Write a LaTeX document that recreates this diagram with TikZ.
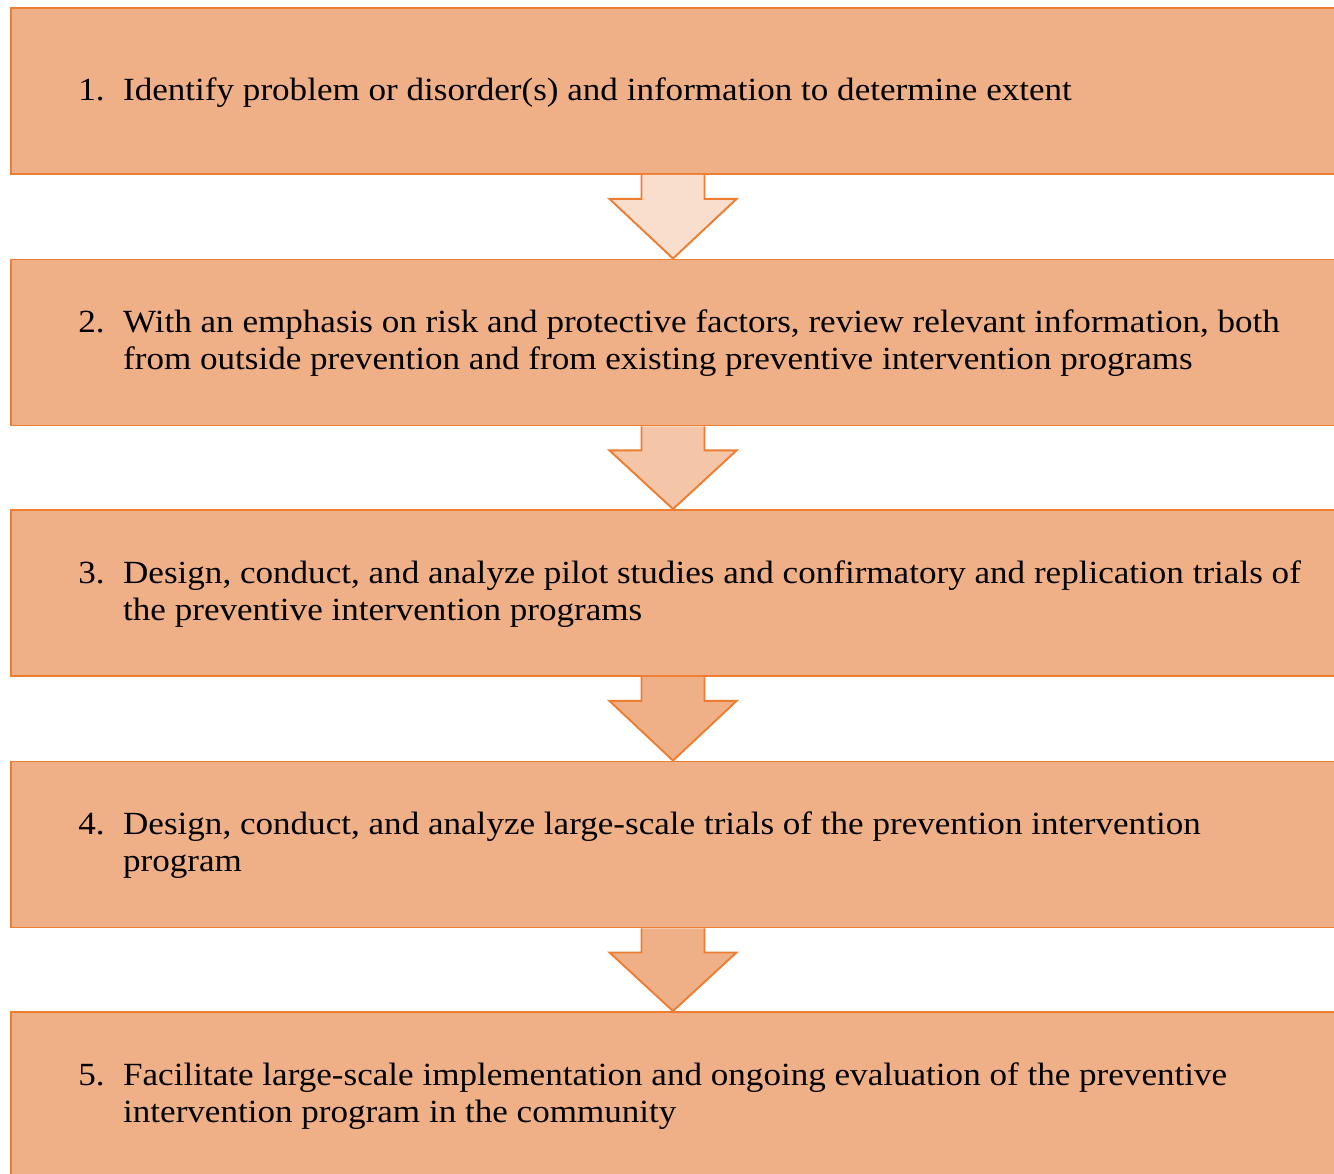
\documentclass[tikz,border=0pt]{standalone}
\usepackage{fontspec}
\setmainfont{Liberation Serif}[FakeStretch=1.085]
\usetikzlibrary{calc}
\definecolor{boxfill}{HTML}{EFB087}
\definecolor{boxline}{HTML}{ED7D31}
\definecolor{arrA}{HTML}{F9DECD}
\definecolor{arrB}{HTML}{F4C5A7}
\definecolor{arrC}{HTML}{EFB087}
\newlength{\numw}
\setlength{\numw}{25.5pt}
\newcommand{\stepnum}[1]{\makebox[\numw][l]{#1}}
\newcommand{\stepind}{\hspace*{\numw}}
\begin{document}
\begin{tikzpicture}[x=0.02cm,y=-0.02cm,
  stepbox/.style={draw=boxline, line width=1.1pt, fill=boxfill, rectangle, inner sep=0pt, minimum width=26.58cm, minimum height=3.32cm},
  steptext/.style={anchor=base west, align=left, inner sep=0pt, font=\fontsize{18.4}{21}\selectfont},
  blockarrow/.style={draw=boxline, line width=1.1pt, line join=miter}
]
\useasboundingbox[fill=white] (0,0) rectangle (1334,1173);
\node[stepbox] (b1) at (675.5,91) {};
\node[stepbox] (b2) at (675.5,342.5) {};
\node[stepbox] (b3) at (675.5,593) {};
\node[stepbox] (b4) at (675.5,844.5) {};
\node[stepbox, minimum height=3.5cm] (b5) at (675.5,1099.5) {};
\coordinate (ax) at (673,0);
% arrows
\foreach \a/\b/\c in {b1/b2/arrA, b2/b3/arrB, b3/b4/arrC, b4/b5/arrC}{
  \path (\a.south -| ax) coordinate (s) (\b.north -| ax) coordinate (t);
  \draw[blockarrow, fill=\c] ($(s)+(-31.5,0)$) -- ($(s)+(-31.5,24)$) -- ($(s)+(-63.5,24)$) -- (t)
    -- ($(s)+(63.5,24)$) -- ($(s)+(31.5,24)$) -- ($(s)+(31.5,0)$);
}
% texts (base anchor = baseline of the last line)
\node[steptext] (t1) at (78,100) {\stepnum{1.}Identify problem or disorder(s) and information to determine extent};
\node[steptext] (t2) at (78,369) {\stepnum{2.}With an emphasis on risk and protective factors, review relevant information, both\\\stepind from outside prevention and from existing preventive intervention programs};
\node[steptext] (t3) at (78,620) {\stepnum{3.}Design, conduct, and analyze pilot studies and confirmatory and replication trials of\\\stepind the preventive intervention programs};
\node[steptext] (t4) at (78,871) {\stepnum{4.}Design, conduct, and analyze large-scale trials of the prevention intervention\\\stepind program};
\node[steptext] (t5) at (78,1122) {\stepnum{5.}Facilitate large-scale implementation and ongoing evaluation of the preventive\\\stepind intervention program in the community};
\end{tikzpicture}
\end{document}
